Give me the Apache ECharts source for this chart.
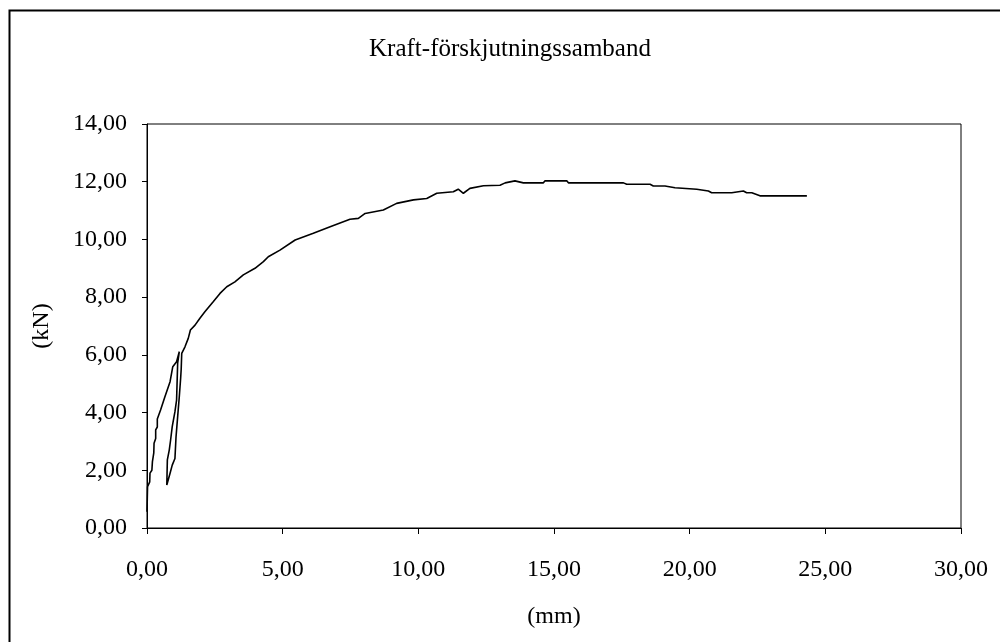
<!DOCTYPE html>
<html>
<head>
<meta charset="utf-8">
<script src="https://cdn.jsdelivr.net/npm/echarts@6/dist/echarts.min.js"></script>
<style>html,body{margin:0;padding:0;background:#fff}#c{width:1000px;height:642px}</style>
</head>
<body>
<div id="c"></div>
<script>
const chartTitle = 'Kraft-förskjutningssamband';
const xName = '(mm)';
const yName = '(kN)';
const xTicks = [0, 5, 10, 15, 20, 25, 30];
const yTicks = [0, 2, 4, 6, 8, 10, 12, 14];
// displacement (mm)
const dispMm = [
  0.00, 0.01, 0.02, 0.10, 0.11, 0.18, 0.20, 0.25, 0.26, 0.32, 0.32, 0.38, 0.38, 0.50, 0.66, 0.85, 0.95, 1.09, 1.15, 1.19,
  1.13, 1.09, 1.03, 0.93, 0.87, 0.82, 0.75, 0.73,
  0.79, 0.85, 0.93, 1.03, 1.07, 1.13, 1.19, 1.24, 1.26,
  1.28, 1.40, 1.52, 1.60, 1.77, 1.95, 2.14, 2.44, 2.69, 2.94, 3.24, 3.55, 3.98, 4.29, 4.47, 4.90, 5.46, 6.13, 6.75,
  7.48, 7.79, 8.04, 8.71, 9.20, 9.82, 10.31, 10.68, 11.29, 11.47, 11.66, 11.90, 12.40, 13.01, 13.20, 13.56, 13.87,
  14.61, 14.67, 15.47, 15.53, 17.56, 17.68, 18.54, 18.66, 19.09, 19.16, 19.46, 19.52, 20.26, 20.32, 20.69, 20.81,
  21.55, 21.61, 21.98, 22.10, 22.29, 22.59, 24.32
];
// force (kN)
const forceKn = [
  0.56, 1.00, 1.43, 1.60, 1.90, 2.00, 2.30, 2.60, 2.94, 3.10, 3.40, 3.50, 3.78, 4.09, 4.55, 5.07, 5.59, 5.76, 5.82, 6.11,
  5.71, 4.43, 4.03, 3.51, 3.05, 2.70, 2.36, 1.49,
  1.55, 1.90, 2.18, 2.41, 3.16, 3.86, 4.55, 5.19, 5.50,
  6.05, 6.28, 6.57, 6.86, 7.03, 7.27, 7.50, 7.84, 8.13, 8.36, 8.53, 8.77, 9.00, 9.23, 9.40, 9.63, 9.98, 10.21, 10.44,
  10.70, 10.73, 10.90, 11.02, 11.25, 11.37, 11.42, 11.60, 11.65, 11.74, 11.60, 11.77, 11.86, 11.88, 11.96, 12.03, 11.96,
  11.96, 12.03, 12.03, 11.96, 11.96, 11.91, 11.91, 11.85, 11.85, 11.79, 11.79, 11.74, 11.74, 11.68, 11.68, 11.62,
  11.62, 11.68, 11.68, 11.62, 11.62, 11.51, 11.51
];

const data = dispMm.map((x, i) => [x, forceKn[i]]);
const font = "'Liberation Serif', 'Times New Roman', serif";
const fmt = v => v.toFixed(2).replace('.', ',');

const chart = echarts.init(document.getElementById('c'));
chart.setOption({
  animation: false,
  backgroundColor: '#fff',
  title: {
    text: chartTitle, left: 505, top: 32, textAlign: 'center',
    textStyle: { fontFamily: font, fontSize: 25, fontWeight: 'normal', color: '#000' }
  },
  graphic: [{
    type: 'rect', shape: { x: 9.5, y: 10.5, width: 1000, height: 640 },
    style: { fill: 'none', stroke: '#000', lineWidth: 2 }, silent: true
  }],
  grid: { left: 147, top: 124, width: 814, height: 404, show: true, borderColor: '#000', borderWidth: 1, backgroundColor: 'transparent' },
  xAxis: {
    type: 'value', min: xTicks[0], max: xTicks[xTicks.length - 1], interval: 5,
    name: xName, nameLocation: 'middle', nameGap: 77,
    nameTextStyle: { fontFamily: font, fontSize: 24, color: '#000' },
    axisLine: { lineStyle: { color: '#000', width: 1 } },
    axisTick: { show: true, length: 6, inside: false, lineStyle: { color: '#000' } },
    axisLabel: { fontFamily: font, fontSize: 24, color: '#000', margin: 30, formatter: fmt },
    splitLine: { show: false }
  },
  yAxis: {
    type: 'value', min: yTicks[0], max: yTicks[yTicks.length - 1], interval: 2,
    name: yName, nameLocation: 'middle', nameGap: 93, nameRotate: 90,
    nameTextStyle: { fontFamily: font, fontSize: 24, color: '#000' },
    axisLine: { show: true, lineStyle: { color: '#000', width: 1 } },
    axisTick: { show: true, length: 5, inside: false, lineStyle: { color: '#000' } },
    axisLabel: { fontFamily: font, fontSize: 24, color: '#000', margin: 20, formatter: fmt },
    splitLine: { show: false }
  },
  series: [{
    type: 'line', data: data, showSymbol: false, symbol: 'none',
    lineStyle: { color: '#000', width: 1.6 }
  }]
});
</script>
</body>
</html>
